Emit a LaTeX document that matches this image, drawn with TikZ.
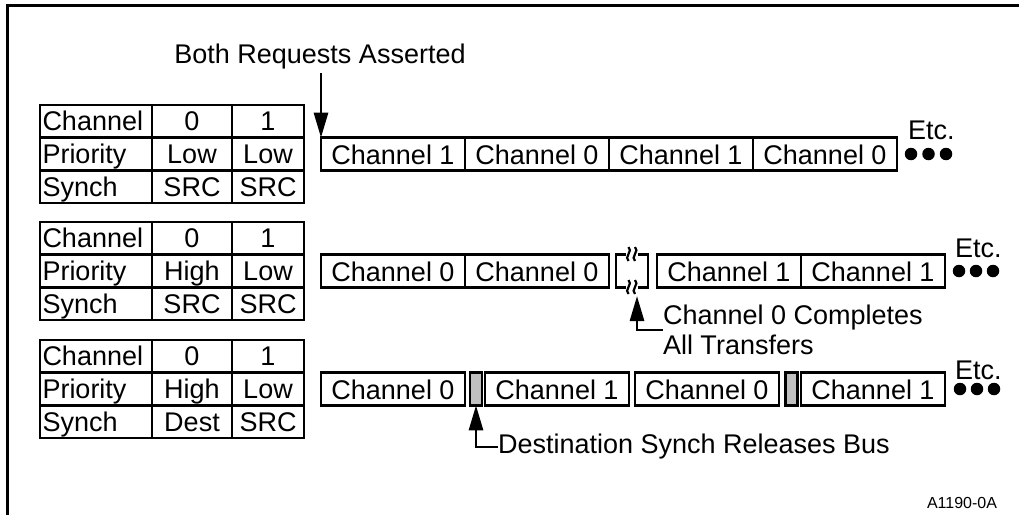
\documentclass[tikz,border=0pt]{standalone}
\usepackage{fontspec}
\setmainfont{Liberation Sans}
\usetikzlibrary{arrows.meta}
\definecolor{boxgray}{RGB}{192,192,192}
\newcommand{\ChTable}[6]{%
  \node[cellL] (#1a1) at (40,#2) {Channel};
  \node[cellA] (#1b1) at (#1a1.north east) {0};
  \node[cellB] (#1c1) at (#1b1.north east) {1};
  \node[cellL] (#1a2) at (#1a1.south west) {Priority};
  \node[cellA] (#1b2) at (#1a2.north east) {#3};
  \node[cellB] (#1c2) at (#1b2.north east) {#4};
  \node[cellL] (#1a3) at (#1a2.south west) {Synch};
  \node[cellA] (#1b3) at (#1a3.north east) {#5};
  \node[cellB] (#1c3) at (#1b3.north east) {#6};
}
\begin{document}
\begin{tikzpicture}[x=1pt,y=-1pt,
  every node/.style={font=\fontsize{27}{30}\selectfont,outer sep=0pt},
  cellbase/.style={draw,line width=2.8pt,minimum height=32.67pt,inner ysep=0pt,text height=19pt,text depth=0pt,anchor=north west},
  cellL/.style={cellbase,text width=107pt,align=left,inner xsep=2.5pt},
  cellA/.style={cellbase,minimum width=80pt,inner xsep=0pt},
  cellB/.style={cellbase,minimum width=72pt,inner xsep=0pt},
  tlbox/.style={draw,line width=2.8pt,minimum height=32.67pt,minimum width=144pt,inner sep=0pt,text height=21pt,text depth=0pt,anchor=north west},
  graybox/.style={draw,line width=2.8pt,fill=boxgray,minimum height=32.67pt,minimum width=12pt,inner sep=0pt,anchor=north west},
  blackdot/.style={circle,fill=black,inner sep=0pt,minimum size=12.5pt},
  lbl/.style={inner sep=0pt},
  arr/.style={line width=2.8pt,-{Triangle[length=25pt,width=14pt]}},
  squig/.style={line width=2.2pt}
]
\useasboundingbox (0,0) rectangle (1019,514);
% frame
\draw[line width=3pt] (1020,5.5) -- (7.5,5.5) -- (7.5,515);

% tables
\ChTable{t1}{105}{Low}{Low}{SRC}{SRC}
\ChTable{t2}{222}{High}{Low}{SRC}{SRC}
\ChTable{t3}{340}{High}{Low}{Dest}{SRC}

% row 1 timeline
\node[tlbox] (r1a) at (321,137.67) {Channel 1};
\node[tlbox] (r1b) at (r1a.north east) {Channel 0};
\node[tlbox] (r1c) at (r1b.north east) {Channel 1};
\node[tlbox] (r1d) at (r1c.north east) {Channel 0};
\node[lbl,anchor=base west] (etc1) at (908,139) {Etc.};
\node[blackdot] (d11) at (911,154) {};
\node[blackdot] (d12) at (928.5,154) {};
\node[blackdot] (d13) at (946,154) {};
\node[lbl,anchor=base] (both) at (320,63) {Both Requests Asserted};
\coordinate (bothtail) at (321,73);
\draw[arr] (bothtail) -- (r1a.north west);

% row 2 timeline
\node[tlbox] (r2a) at (321,254.67) {Channel 0};
\node[tlbox] (r2b) at (r2a.north east) {Channel 0};
\node[minimum width=32pt,minimum height=32.67pt,inner sep=0pt,anchor=north west] (brk) at (616,254.67) {};
\draw[line width=2.8pt] ([xshift=-6pt]brk.north) -| (brk.south west) -- ([xshift=-6pt]brk.south);
\draw[line width=2.8pt] ([xshift=6pt]brk.north) -| (brk.south east) -- ([xshift=6pt]brk.south);
\foreach \xx in {628.5,635}{
  \draw[squig] (\xx,247) .. controls (\xx+5,250.5) and (\xx-5,257.5) .. (\xx,261);
  \draw[squig] (\xx,280) .. controls (\xx+5,283.5) and (\xx-5,290.5) .. (\xx,294);
}
\node[tlbox] (r2c) at (657,254.67) {Channel 1};
\node[tlbox] (r2d) at (r2c.north east) {Channel 1};
\node[lbl,anchor=base west] (etc2) at (955,257) {Etc.};
\node[blackdot] (d21) at (959,271) {};
\node[blackdot] (d22) at (976,271) {};
\node[blackdot] (d23) at (993,271) {};
\node[lbl,anchor=west,align=left] (compl) at (663,330) {Channel 0 Completes\\All Transfers};
\coordinate (brktip) at (637,296);
\draw[arr] (compl.west) -| (brktip);

% row 3 timeline
\node[tlbox] (r3a) at (321,372.67) {Channel 0};
\node[graybox] (g1) at (470,372.67) {};
\node[tlbox] (r3b) at (485,372.67) {Channel 1};
\node[tlbox] (r3c) at (635,372.67) {Channel 0};
\node[graybox] (g2) at (785.5,372.67) {};
\node[tlbox] (r3d) at (801,372.67) {Channel 1};
\node[lbl,anchor=base west] (etc3) at (955,379) {Etc.};
\node[blackdot] (d31) at (960,389) {};
\node[blackdot] (d32) at (977,389) {};
\node[blackdot] (d33) at (994,389) {};
\node[lbl,anchor=west] (dest) at (498,447) {Destination Synch Releases Bus};
\draw[arr] (dest.west) -| (g1.south);

% figure id
\node[lbl,anchor=base east,font=\fontsize{16}{18}\selectfont] (figid) at (997,508) {A1190-0A};
\end{tikzpicture}
\end{document}
